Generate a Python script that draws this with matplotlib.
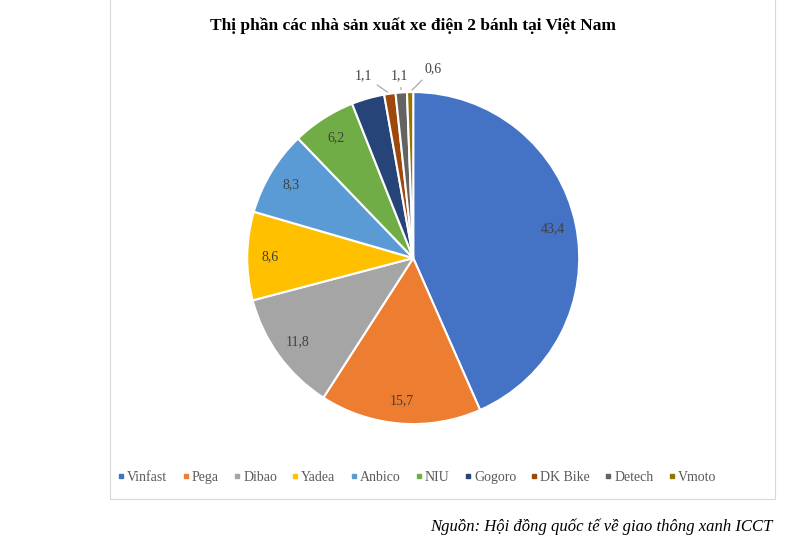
import numpy as np
import matplotlib.pyplot as plt
from matplotlib.patches import Rectangle

plt.rcParams['font.family'] = ['Liberation Serif', 'DejaVu Serif']

brands = ['Vinfast', 'Pega', 'Dibao', 'Yadea', 'Anbico', 'NIU', 'Gogoro', 'DK Bike', 'Detech', 'Vmoto']
shares = [43.4, 15.7, 11.8, 8.6, 8.3, 6.2, 3.2, 1.1, 1.1, 0.6]
labels = ['43,4', '15,7', '11,8', '8,6', '8,3', '6,2', '', '1,1', '1,1', '0,6']
colors = ['#4472C4', '#ED7D31', '#A5A5A5', '#FFC000', '#5B9BD5', '#70AD47',
          '#264478', '#9E480E', '#636363', '#997300']

fig = plt.figure(figsize=(8, 5.41), dpi=100)
fig.patches.append(Rectangle((0.137, 0.077), 0.832, 0.93, transform=fig.transFigure,
                             fill=False, edgecolor='#d9d9d9', lw=0.8))
fig.text(0.516, 0.953, 'Thị phần các nhà sản xuất xe điện 2 bánh tại Việt Nam',
         ha='center', va='center', fontsize=12.5, fontweight='bold')

ax = fig.add_axes([0.309, 0.216, 0.415, 0.614])
wedges, _ = ax.pie(shares, colors=colors, startangle=90, counterclock=False,
                   wedgeprops=dict(edgecolor='white', linewidth=1.5))
ax.set_xlim(-1, 1)
ax.set_ylim(-1, 1)
ax.set_aspect('equal')

# small slices labelled outside with leader lines
outside = {7: (-0.3, 1.1), 8: (-0.08, 1.1), 9: (0.12, 1.14)}
for i, w in enumerate(wedges):
    if not labels[i]:
        continue
    ang = np.deg2rad((w.theta1 + w.theta2) / 2)
    if i in outside:
        tx, ty = outside[i]
        px, py = np.cos(ang), np.sin(ang)
        ax.annotate(labels[i], xy=(px, py), xytext=(tx, ty), ha='center', va='center',
                    fontsize=10, color='#404040', annotation_clip=False,
                    arrowprops=dict(arrowstyle='-', color='#a0a0a0', lw=0.8))
    else:
        r = 0.86
        ax.text(r * np.cos(ang), r * np.sin(ang), labels[i], ha='center', va='center',
                fontsize=10, color='#404040')

handles = [plt.Line2D([], [], marker='s', color=c, ls='', markersize=3.5) for c in colors]
fig.legend(handles, brands, loc='center', bbox_to_anchor=(0.52, 0.117), ncol=10,
           frameon=False, fontsize=10, handletextpad=0.05, columnspacing=0.9,
           handlelength=0.8, labelcolor='#595959')

fig.text(0.965, 0.027, 'Nguồn: Hội đồng quốc tế về giao thông xanh ICCT',
         ha='right', va='center', fontsize=12, style='italic')

fig.savefig('out.png', dpi=100)
